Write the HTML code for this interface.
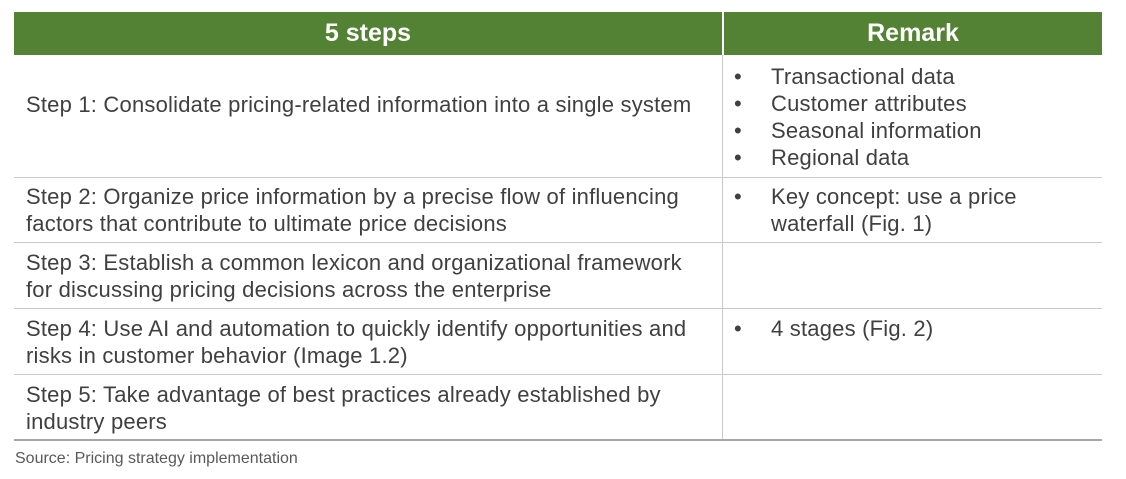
<!DOCTYPE html>
<html><head><meta charset="utf-8"><style>
body{margin:0;width:1126px;height:479px;background:#fff;font-family:"Liberation Sans",Arial,sans-serif;color:#404040;position:relative;overflow:hidden}
.a{position:absolute}
.hdr{background:#548235;color:#fff;font-weight:bold;font-size:25px;text-align:center;line-height:43px;top:12px;height:43px}
.hl{height:1px;background:#c8c8c8;left:14px;width:1088px}
.t{font-size:22px;letter-spacing:0.2px;line-height:27px;white-space:nowrap}
.b{font-size:22px;letter-spacing:0.2px;line-height:27px;white-space:nowrap}
.b span{position:absolute;left:-37px}
</style></head><body>
<div class="a hdr" style="left:14px;width:708px">5 steps</div>
<div class="a hdr" style="left:724px;width:378px">Remark</div>
<div class="a" style="left:722px;top:55px;width:1px;height:385px;background:#c8c8c8"></div>
<div class="a hl" style="top:177px"></div>
<div class="a hl" style="top:242px"></div>
<div class="a hl" style="top:308px"></div>
<div class="a hl" style="top:374px"></div>
<div class="a" style="left:14px;width:1088px;top:439px;height:2px;background:#a6a6a6"></div>

<div class="a t" style="left:26px;top:91px">Step 1: Consolidate pricing-related information into a single system</div>
<div class="a t" style="left:26px;top:183px">Step 2: Organize price information by a precise flow of influencing<br>factors that contribute to ultimate price decisions</div>
<div class="a t" style="left:26px;top:249px">Step 3: Establish a common lexicon and organizational framework<br>for discussing pricing decisions across the enterprise</div>
<div class="a t" style="left:26px;top:315px">Step 4: Use AI and automation to quickly identify opportunities and<br>risks in customer behavior (Image 1.2)</div>
<div class="a t" style="left:26px;top:381px">Step 5: Take advantage of best practices already established by<br>industry peers</div>

<div class="a b" style="left:771px;top:63px"><span>•</span>Transactional data</div>
<div class="a b" style="left:771px;top:90px"><span>•</span>Customer attributes</div>
<div class="a b" style="left:771px;top:117px"><span>•</span>Seasonal information</div>
<div class="a b" style="left:771px;top:144px"><span>•</span>Regional data</div>
<div class="a b" style="left:771px;top:183px"><span>•</span>Key concept: use a price<br>waterfall (Fig. 1)</div>
<div class="a b" style="left:771px;top:315px"><span>•</span>4 stages (Fig. 2)</div>

<div class="a" style="left:15px;top:450px;font-size:16px;color:#595959">Source: Pricing strategy implementation</div>
</body></html>
